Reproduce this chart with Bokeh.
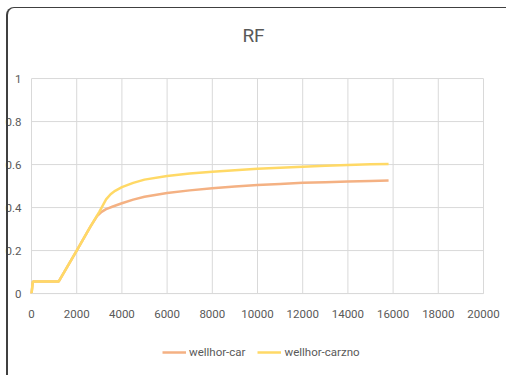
from bokeh.plotting import figure
from bokeh.models import Range1d, FixedTicker, Legend, LegendItem, InlineStyleSheet, LinearAxis
from bokeh.embed import file_html
from bokeh.resources import INLINE

# Data
x_car = [0, 60, 120, 1200, 2000, 2600, 2900, 3100, 3300, 3600, 4000, 4500, 5000, 6000, 7000,
         8000, 9000, 10000, 11000, 12000, 13000, 14000, 15000, 15800]
y_car = [0, 0.056, 0.056, 0.056, 0.2, 0.31, 0.36, 0.38, 0.393, 0.405, 0.42, 0.437, 0.45,
         0.468, 0.48, 0.49, 0.498, 0.505, 0.51, 0.515, 0.518, 0.521, 0.524, 0.526]

x_carzno = [0, 60, 120, 1200, 2000, 2600, 3000, 3300, 3500, 3700, 4000, 4500, 5000, 6000, 7000,
            8000, 9000, 10000, 11000, 12000, 13000, 14000, 15000, 15800]
y_carzno = [0, 0.056, 0.056, 0.056, 0.2, 0.31, 0.38, 0.438, 0.462, 0.478, 0.495, 0.515, 0.53,
            0.547, 0.558, 0.567, 0.574, 0.58, 0.585, 0.59, 0.594, 0.598, 0.601, 0.603]

x_ticks = [0, 2000, 4000, 6000, 8000, 10000, 12000, 14000, 16000, 18000, 20000]
y_ticks = [0, 0.2, 0.4, 0.6, 0.8, 1]
y_tick_labels = ["0", "0.2", "0.4", "0.6", "0.8", "1"]

series_names = ["wellhor-car", "wellhor-carzno"]

FONT = "Roboto"
GRAY = "#595959"
GRID = "#D9D9D9"

# frame covers the canvas below the title; value area is x 0..20000, y 0..1
p = figure(width=506, height=375, output_backend="svg", toolbar_location=None,
           x_range=Range1d(-1372, 21018), y_range=Range1d(-0.381, 1.084),
           x_axis_location=None, y_axis_location=None,
           min_border_left=0, min_border_right=0, min_border_top=60, min_border_bottom=0)
p.outline_line_color = None
p.background_fill_color = "white"
p.border_fill_color = "white"

p.title.text = "RF"
p.title.align = "center"
p.title.text_font = FONT
p.title.text_font_size = "19px"
p.title.text_font_style = "normal"
p.title.text_color = GRAY
p.title.standoff = 28

xaxis = LinearAxis(fixed_location=0, ticker=FixedTicker(ticks=x_ticks),
                   bounds=(x_ticks[0], x_ticks[-1]))
p.add_layout(xaxis, "below")
yaxis = LinearAxis(fixed_location=0, ticker=FixedTicker(ticks=y_ticks),
                   bounds=(y_ticks[0], y_ticks[-1]))
p.add_layout(yaxis, "left")

for ax in (xaxis, yaxis):
    ax.major_tick_line_color = None
    ax.minor_tick_line_color = None
    ax.major_label_text_font = FONT
    ax.major_label_text_font_size = "11.5px"
    ax.major_label_text_color = GRAY
xaxis.axis_line_color = GRID
xaxis.major_label_standoff = 10
yaxis.axis_line_color = None
yaxis.major_label_overrides = {t: l for t, l in zip(y_ticks, y_tick_labels)}
yaxis.major_label_standoff = 4

p.xgrid.visible = False
p.ygrid.visible = False

# grid lines limited to the value area
p.segment(x0=x_ticks, y0=[y_ticks[0]] * len(x_ticks), x1=x_ticks, y1=[y_ticks[-1]] * len(x_ticks),
          line_color=GRID, line_width=1)
p.segment(x0=[x_ticks[0]] * len(y_ticks), y0=y_ticks, x1=[x_ticks[-1]] * len(y_ticks), y1=y_ticks,
          line_color=GRID, line_width=1)

r1 = p.line(x_car, y_car, line_color="#F4B183", line_width=2.5)
r2 = p.line(x_carzno, y_carzno, line_color="#FFD966", line_width=2.5)

legend = Legend(items=[LegendItem(label=series_names[0], renderers=[r1]),
                       LegendItem(label=series_names[1], renderers=[r2])],
                orientation="horizontal", location=(162, 13),
                label_text_font=FONT, label_text_font_size="11.5px", label_text_color=GRAY,
                glyph_width=24, label_standoff=3, spacing=12, border_line_color=None,
                background_fill_alpha=0, padding=0, margin=0)
p.add_layout(legend)

p.stylesheets = [InlineStyleSheet(css=(
    ":host::after { content: ''; position: absolute; left: 6px; top: 7px; "
    "right: -30px; bottom: -30px; border-top: 1.5px solid #404040; "
    "border-left: 2px solid #404040; border-top-left-radius: 8px; "
    "pointer-events: none; }"
    ":host { position: relative; }"))]

open("out.html", "w").write(file_html(p, INLINE))
